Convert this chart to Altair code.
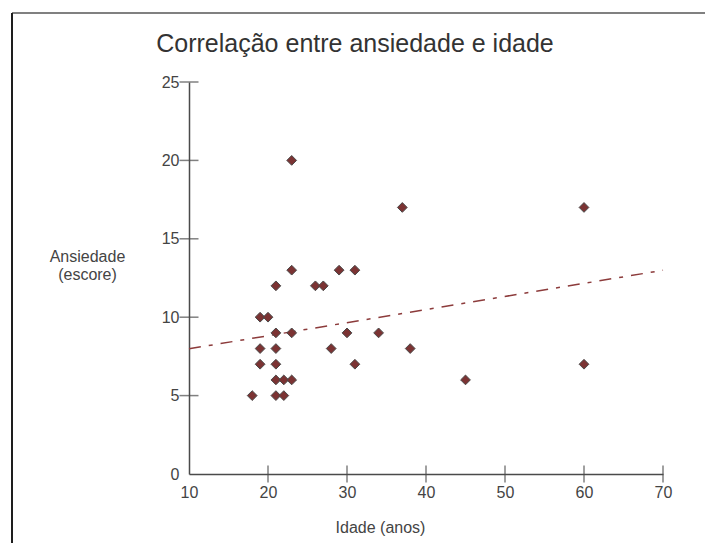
import altair as alt
import pandas as pd

# Age (years) and anxiety score of each respondent
idade = [23, 23, 29, 31, 21, 26, 27, 19, 20, 21, 23, 30, 34, 19, 21,
         28, 19, 21, 31, 21, 22, 23, 18, 21, 22, 37, 60, 38, 45, 60]
ansiedade = [20, 13, 13, 13, 12, 12, 12, 10, 10, 9, 9, 9, 9, 8, 8,
             8, 7, 7, 7, 6, 6, 6, 5, 5, 5, 17, 17, 8, 6, 7]

x_ticks = [20, 30, 40, 50, 60, 70]
y_ticks = [5, 10, 15, 20, 25]
x_labels = [10, 20, 30, 40, 50, 60, 70]
y_labels = [0, 5, 10, 15, 20, 25]

df = pd.DataFrame({"idade": idade, "ansiedade": ansiedade})
dfx = pd.DataFrame({"v": x_ticks})
dfy = pd.DataFrame({"v": y_ticks})

FONT = "Liberation Sans"
AXIS_COLOR = "#4a4a4a"

x_scale = alt.Scale(domain=[10, 70], nice=False, zero=False)
y_scale = alt.Scale(domain=[0, 25], nice=False)

x_axis = alt.Axis(
    values=x_labels, ticks=False, tickSize=0, grid=False, labelFlush=False,
    domainColor=AXIS_COLOR, domainWidth=1.5,
    labelFont=FONT, labelFontSize=16, labelColor="#444444", labelPadding=10,
    title="Idade (anos)", titleFont=FONT, titleFontSize=16, titleFontWeight="normal",
    titleColor="#444444", titleX=191, titleY=58, titleAlign="center",
    titleBaseline="alphabetic", titleAnchor="start",
)
y_axis = alt.Axis(
    values=y_labels, ticks=False, tickSize=0, grid=False, labelFlush=False,
    domainColor=AXIS_COLOR, domainWidth=1.5,
    labelFont=FONT, labelFontSize=16, labelColor="#444444", labelPadding=10,
    title=["Ansiedade", "(escore)"], titleFont=FONT, titleFontSize=16,
    titleFontWeight="normal", titleColor="#444444", titleAngle=0,
    titleX=-102, titleY=166, titleAlign="center", titleBaseline="top",
    titleLineHeight=18, titleAnchor="start",
)

points = alt.Chart(df).mark_point(
    shape="diamond", filled=True, size=95, fill="#7b3333", opacity=1,
    stroke="#4a4a4a", strokeWidth=1,
).encode(
    x=alt.X("idade:Q", scale=x_scale, axis=x_axis),
    y=alt.Y("ansiedade:Q", scale=y_scale, axis=y_axis),
)

trend = alt.Chart(df).transform_regression(
    "idade", "ansiedade", extent=[10, 70]
).mark_line(
    color="#8c3b3b", strokeWidth=1.5, strokeDash=[12, 8, 4, 8]
).encode(
    x=alt.X("idade:Q", scale=x_scale),
    y=alt.Y("ansiedade:Q", scale=y_scale),
)

# Tick marks crossing the axis lines
xt = alt.Chart(dfx).mark_tick(
    orient="vertical", size=17, thickness=1.5, color=AXIS_COLOR
).encode(
    x=alt.X("v:Q", scale=x_scale),
    y=alt.datum(0, scale=y_scale),
)
yt = alt.Chart(dfy).mark_tick(
    orient="horizontal", size=19, thickness=1.5, color=AXIS_COLOR
).encode(
    y=alt.Y("v:Q", scale=y_scale),
    x=alt.datum(10, scale=x_scale),
)

# Page frame edges
frame_top = alt.Chart(dfx).mark_rule(color="#808080", strokeWidth=2).encode(
    x=alt.value(-177), x2=alt.value(516), y=alt.value(-69)
)
frame_left = alt.Chart(dfx).mark_rule(color="#1e1e1e", strokeWidth=2).encode(
    x=alt.value(-177), y=alt.value(-69), y2=alt.value(461)
)

chart = alt.layer(
    frame_top, frame_left, trend, xt, yt, points
).properties(
    width=474, height=392,
    autosize=alt.AutoSizeParams(type="none"),
    padding={"left": 189, "top": 82, "right": 42, "bottom": 69},
    title=alt.TitleParams(
        "Correlação entre ansiedade e idade", font=FONT, fontSize=25,
        fontWeight="normal", color="#333333", anchor="middle", dx=-71,
        offset=0, dy=45, frame="group",
    ),
    background="white",
).configure_view(stroke=None)

chart.save("out.html", embed_options={"renderer": "svg", "actions": False})
